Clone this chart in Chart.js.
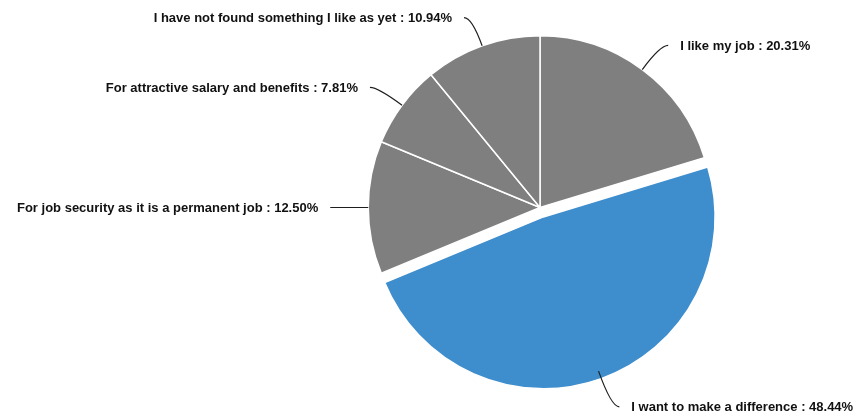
<!DOCTYPE html>
<html lang="en">
<head>
<meta charset="UTF-8">
<title>Reasons for working here</title>
<style>
    body { margin: 0; background: #ffffff; }
    #wrap { width: 853px; height: 416px; }
</style>
</head>
<body>
<div id="wrap"><canvas id="pie"></canvas></div>

<script src="https://cdn.jsdelivr.net/npm/chart.js"></script>
<script>
    // Survey answers, clockwise from 12 o'clock
    const categories = [
        'I like my job',
        'I want to make a difference',
        'For job security as it is a permanent job',
        'For attractive salary and benefits',
        'I have not found something I like as yet'
    ];
    const shares = [20.31, 48.44, 12.50, 7.81, 10.94];
    const sliceColors = ['#7f7f7f', '#3e8dcd', '#7f7f7f', '#7f7f7f', '#7f7f7f'];
    const pulledOut = [false, true, false, false, false];

    const PULL = 10;        // px the highlighted slice is moved away from the centre
    const LEADER = 30;      // radial length of the label leader line
    const ELBOW = 8;        // horizontal tail of the leader line
    const LABEL_GAP = 12;

    // Move the highlighted slice outward without changing its radius
    const pullSlice = {
        id: 'pullSlice',
        beforeDatasetsDraw(chart) {
            const a = chart.chartArea;
            const cx = (a.left + a.right) / 2;
            const cy = (a.top + a.bottom) / 2;
            chart.getDatasetMeta(0).data.forEach((arc, i) => {
                const mid = (arc.startAngle + arc.endAngle) / 2;
                const d = pulledOut[i] ? PULL : 0;
                arc.x = cx + Math.cos(mid) * d;
                arc.y = cy + Math.sin(mid) * d;
            });
        }
    };

    // Outside labels with curved leader lines
    const outsideLabels = {
        id: 'outsideLabels',
        afterDatasetsDraw(chart) {
            const ctx = chart.ctx;
            ctx.save();
            ctx.font = 'bold 13px "Liberation Sans", Arial, sans-serif';
            ctx.textBaseline = 'middle';
            ctx.strokeStyle = '#1e1e1e';
            ctx.fillStyle = '#111111';
            ctx.lineWidth = 1.2;
            chart.getDatasetMeta(0).data.forEach((arc, i) => {
                const mid = (arc.startAngle + arc.endAngle) / 2;
                const cos = Math.cos(mid), sin = Math.sin(mid);
                const r = arc.outerRadius;
                const inset = pulledOut[i] ? 8 : 0;
                const ax = arc.x + cos * (r - inset), ay = arc.y + sin * (r - inset);
                const bx = arc.x + cos * (r + LEADER), by = arc.y + sin * (r + LEADER);
                const side = cos >= 0 ? 1 : -1;
                const ex = bx + side * ELBOW, ey = by;

                ctx.beginPath();
                ctx.moveTo(ax, ay);
                ctx.quadraticCurveTo(bx, by, ex, ey);
                ctx.stroke();

                ctx.textAlign = side > 0 ? 'left' : 'right';
                const text = categories[i] + ' : ' + shares[i].toFixed(2) + '%';
                ctx.fillText(text, ex + side * LABEL_GAP, ey + 1);
            });
            ctx.restore();
        }
    };

    new Chart(document.getElementById('pie'), {
        type: 'pie',
        data: {
            labels: categories,
            datasets: [{
                data: shares,
                backgroundColor: sliceColors,
                borderColor: '#ffffff',
                borderWidth: 1.5
            }]
        },
        options: {
            responsive: true,
            maintainAspectRatio: false,
            animation: false,
            layout: { padding: { left: 327, right: 100, top: 35, bottom: 36 } },
            plugins: {
                legend: { display: false },
                tooltip: { enabled: false }
            }
        },
        plugins: [pullSlice, outsideLabels]
    });
</script>
</body>
</html>
